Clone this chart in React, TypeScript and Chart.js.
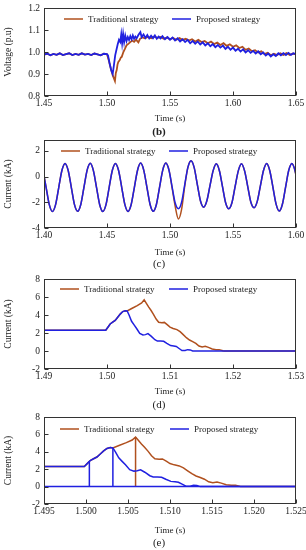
import React, { useEffect, useRef } from 'react';
import { Chart, registerables } from 'chart.js';

Chart.register(...registerables);

const BROWN = '#b0501e';
const BLUE = '#2020e0';
const FONT = "'Liberation Serif', 'Times New Roman', serif";
const INK = '#222222';

// ---------- Panel (b): voltage ----------
const VP_T = [
  1.45, 1.4525, 1.455, 1.4575, 1.46, 1.4625, 1.465, 1.4675, 1.47, 1.4725, 1.475, 1.4775, 1.48, 1.4825, 1.485, 1.4875, 1.49, 1.4925, 1.495, 1.4975, 1.5,
  1.5008, 1.502, 1.5033, 1.5045, 1.5055, 1.5065, 1.5075, 1.5085, 1.5095, 1.5105, 1.5113, 1.512, 1.5128, 1.5136, 1.5145, 1.5155,
  1.5165, 1.5175, 1.5185, 1.5195, 1.5205, 1.5215, 1.5225, 1.5235, 1.525, 1.5265, 1.5275, 1.529, 1.5305, 1.532, 1.5335, 1.535, 1.5365, 1.538, 1.5395,
  1.541, 1.5425, 1.544, 1.546, 1.548, 1.55, 1.552, 1.554, 1.556, 1.558, 1.56, 1.562, 1.564, 1.566, 1.568, 1.57, 1.572, 1.574, 1.576, 1.578, 1.58,
  1.582, 1.584, 1.586, 1.588, 1.59, 1.592, 1.594, 1.596, 1.598, 1.6, 1.602, 1.604, 1.606, 1.608, 1.61, 1.612, 1.614, 1.616, 1.618, 1.62,
  1.622, 1.624, 1.626, 1.628, 1.63, 1.632, 1.634, 1.636, 1.638, 1.64, 1.642, 1.644, 1.646, 1.648, 1.65,
];
const VP_V = [
  0.988, 0.993, 0.985, 0.991, 0.987, 0.994, 0.986, 0.990, 0.994, 0.986, 0.991, 0.987, 0.994, 0.988, 0.991, 0.986, 0.993, 0.989, 0.985, 0.992, 0.990,
  0.985, 0.950, 0.918, 0.900, 0.940, 0.985, 1.010, 1.035, 1.055, 1.045, 1.080, 1.040, 1.082, 1.045, 1.075, 1.050,
  1.068, 1.055, 1.072, 1.058, 1.075, 1.060, 1.070, 1.062, 1.078, 1.090, 1.068, 1.080, 1.064, 1.077, 1.062, 1.074, 1.063, 1.075, 1.060,
  1.070, 1.062, 1.072, 1.058, 1.068, 1.056, 1.066, 1.052, 1.062, 1.048, 1.058, 1.045, 1.055, 1.040, 1.050, 1.038, 1.048, 1.034, 1.044, 1.030, 1.040,
  1.026, 1.036, 1.022, 1.032, 1.020, 1.029, 1.014, 1.024, 1.010, 1.020, 1.006, 1.015, 1.002, 1.012, 0.998, 1.008, 0.996, 1.005, 0.993, 1.003,
  0.990, 0.998, 0.984, 0.993, 0.980, 0.990, 0.982, 0.994, 0.985, 0.995, 0.986, 0.996, 0.987, 0.994, 0.990,
];
const VT_T = [
  1.45, 1.4525, 1.455, 1.4575, 1.46, 1.4625, 1.465, 1.4675, 1.47, 1.4725, 1.475, 1.4775, 1.48, 1.4825, 1.485, 1.4875, 1.49, 1.4925, 1.495, 1.4975, 1.5,
  1.5015, 1.503, 1.5045, 1.5063, 1.507, 1.5077, 1.5084, 1.509, 1.51, 1.511, 1.5117, 1.513, 1.5143, 1.5155, 1.5169, 1.5185, 1.52, 1.5215, 1.523,
  1.5249, 1.5262, 1.528, 1.53, 1.5325, 1.535, 1.5375, 1.54, 1.5425, 1.545, 1.5475, 1.55, 1.5525, 1.555, 1.5575, 1.56, 1.5625, 1.565, 1.5675,
  1.57, 1.5725, 1.575, 1.5775, 1.58, 1.5825, 1.585, 1.5875, 1.59, 1.5925, 1.595, 1.5975, 1.6, 1.6025, 1.605, 1.6075, 1.61, 1.6125, 1.615,
  1.6175, 1.62, 1.6225, 1.625, 1.6275, 1.63, 1.6325, 1.635, 1.6375, 1.64, 1.6425, 1.645, 1.6475, 1.65,
];
const VT_V = [
  0.988, 0.993, 0.985, 0.991, 0.987, 0.994, 0.986, 0.990, 0.994, 0.986, 0.991, 0.987, 0.994, 0.988, 0.991, 0.986, 0.993, 0.989, 0.985, 0.992, 0.990,
  0.960, 0.925, 0.895, 0.868, 0.905, 0.918, 0.945, 0.955, 0.962, 0.975, 0.978, 1.000, 1.015, 1.030, 1.037, 1.045, 1.052, 1.046, 1.056,
  1.044, 1.060, 1.066, 1.062, 1.068, 1.062, 1.070, 1.064, 1.068, 1.060, 1.066, 1.058, 1.064, 1.056, 1.063, 1.055, 1.060, 1.052, 1.058,
  1.048, 1.055, 1.045, 1.050, 1.040, 1.047, 1.036, 1.043, 1.032, 1.040, 1.028, 1.035, 1.024, 1.030, 1.018, 1.024, 1.010, 1.016, 1.004,
  1.008, 0.998, 1.003, 0.990, 0.996, 0.985, 0.992, 0.986, 0.994, 0.987, 0.995, 0.986, 0.993, 0.989,
];

// ---------- Panel (c): current waveform (sampled every 2.5 ms from 1.3992 s) ----------
const C_T0 = 1.3992;
const C_DT = 0.0025;
const CP_V = [
  0.48, -0.85, -2.18,
  -2.72, -2.18, -0.85, 0.48, 1.03, 0.48, -0.85, -2.18,
  -2.70, -2.17, -0.84, 0.49, 1.04, 0.47, -0.86, -2.19,
  -2.72, -2.18, -0.85, 0.48, 1.03, 0.48, -0.85, -2.18,
  -2.71, -2.17, -0.85, 0.48, 1.05, 0.49, -0.84, -2.17,
  -2.70, -2.17, -0.84, 0.49, 1.05, 0.50, -0.82, -2.08,
  -2.50, -2.00, -0.62, 0.72, 1.24, 0.70, -0.62, -1.90,
  -2.38, -1.90, -0.72, 0.45, 1.00, 0.46, -0.80, -2.05,
  -2.50, -2.02, -0.76, 0.45, 1.00, 0.45, -0.78, -2.00,
  -2.42, -1.95, -0.74, 0.47, 1.02, 0.46, -0.84, -2.14,
  -2.68, -2.15, -0.84, 0.48, 1.03, 0.48, -0.85,
];
const CT_V = [
  0.48, -0.85, -2.18,
  -2.72, -2.18, -0.85, 0.48, 1.03, 0.48, -0.85, -2.18,
  -2.70, -2.17, -0.84, 0.49, 1.04, 0.47, -0.86, -2.19,
  -2.72, -2.18, -0.85, 0.48, 1.03, 0.48, -0.85, -2.18,
  -2.71, -2.17, -0.85, 0.48, 1.05, 0.49, -0.84, -2.17,
  -2.70, -2.17, -0.84, 0.49, 1.05, 0.50, -0.90, -2.35,
  -3.30, -2.55, -0.75, 0.72, 1.24, 0.70, -0.62, -1.90,
  -2.38, -1.90, -0.72, 0.45, 1.00, 0.46, -0.80, -2.05,
  -2.50, -2.02, -0.76, 0.45, 1.00, 0.45, -0.78, -2.00,
  -2.42, -1.95, -0.74, 0.47, 1.02, 0.46, -0.84, -2.14,
  -2.68, -2.15, -0.84, 0.48, 1.03, 0.48, -0.85,
];

// ---------- Panels (d), (e): breaker current ----------
const IP_T = [
  1.49, 1.4998, 1.5002, 1.5005, 1.5009, 1.5013, 1.5017, 1.5021, 1.5025, 1.5029, 1.5032, 1.5035, 1.5039, 1.5043, 1.5047,
  1.5052, 1.5057, 1.5061, 1.5065, 1.507, 1.5076, 1.508, 1.5085, 1.509, 1.5095, 1.5101, 1.5106, 1.511, 1.5115, 1.5119,
  1.5124, 1.5128, 1.5132, 1.5136, 1.53,
];
const IP_V = [
  2.3, 2.3, 2.7, 3.0, 3.2, 3.4, 3.75, 4.1, 4.38, 4.48, 4.45, 4.0, 3.3, 2.9, 2.5,
  1.95, 1.78, 1.82, 1.93, 1.65, 1.25, 1.1, 1.1, 1.08, 0.85, 0.6, 0.56, 0.5, 0.25, 0.05,
  0.05, 0.15, 0.12, 0.0, 0.0,
];
const IT_T = [
  1.49, 1.4998, 1.5002, 1.5005, 1.5009, 1.5013, 1.5017, 1.5021, 1.5025, 1.5029, 1.5032, 1.504, 1.5048, 1.5055, 1.5059,
  1.5062, 1.5066, 1.507, 1.5074, 1.5078, 1.5082, 1.5087, 1.5091, 1.5096, 1.51, 1.5105, 1.5111, 1.5116, 1.5121, 1.5126,
  1.5131, 1.5136, 1.5141, 1.5146, 1.5151, 1.5156, 1.5161, 1.5167, 1.5173, 1.5178, 1.5184, 1.5186, 1.53,
];
const IT_V = [
  2.3, 2.3, 2.7, 3.0, 3.2, 3.4, 3.75, 4.1, 4.38, 4.48, 4.45, 4.75, 5.05, 5.35, 5.7,
  5.35, 4.9, 4.5, 4.05, 3.55, 3.2, 3.15, 3.18, 2.9, 2.65, 2.5, 2.38, 2.15, 1.82, 1.48,
  1.22, 1.05, 0.85, 0.55, 0.45, 0.52, 0.4, 0.22, 0.15, 0.15, 0.02, 0.0, 0.0,
];
// Panel (e) switching branches
const EP_T = [1.49, 1.5004, 1.5004, 1.5004, 1.5032, 1.5032, 1.5032, 1.53];
const EP_V = [0, 0, 2.95, 0, 0, 4.45, 0, 0];
const ET_T = [1.5059, 1.5059];
const ET_V = [0, 5.7];

const LEGEND_LABELS = ['Traditional strategy', 'Proposed strategy'];

const pts = (t: number[], v: number[]) => t.map((x, i) => ({ x, y: v[i] }));
const evenPts = (t0: number, dt: number, v: number[]) => v.map((y, i) => ({ x: t0 + dt * i, y }));

const framePlugin = {
  id: 'frameTicks',
  afterDatasetsDraw(chart: any) {
    const { ctx, chartArea: a, scales } = chart;
    ctx.save();
    ctx.strokeStyle = '#333333';
    ctx.lineWidth = 1;
    const l = Math.round(a.left) + 0.5;
    const r = Math.round(a.right) - 0.5;
    const t = Math.round(a.top) + 0.5;
    const b = Math.round(a.bottom) - 0.5;
    ctx.strokeRect(l, t, r - l, b - t);
    ctx.beginPath();
    scales.x.ticks.forEach((tk: any) => {
      const px = Math.round(scales.x.getPixelForValue(tk.value)) + 0.5;
      ctx.moveTo(px, b);
      ctx.lineTo(px, b - 4);
    });
    scales.y.ticks.forEach((tk: any) => {
      const py = Math.round(scales.y.getPixelForValue(tk.value)) + 0.5;
      ctx.moveTo(l, py);
      ctx.lineTo(l + 4, py);
    });
    ctx.stroke();
    ctx.restore();
  },
};

const legendPlugin = {
  id: 'inLegend',
  afterDraw(chart: any, _args: any, opts: any) {
    const { ctx, chartArea } = chart;
    const y = chartArea.top + opts.dy;
    const items = [
      { label: LEGEND_LABELS[0], color: BROWN, dx: opts.x1 },
      { label: LEGEND_LABELS[1], color: BLUE, dx: opts.x2 },
    ];
    ctx.save();
    items.forEach((it) => {
      const x = chartArea.left + it.dx;
      ctx.strokeStyle = it.color;
      ctx.lineWidth = 1.5;
      ctx.beginPath();
      ctx.moveTo(x, y);
      ctx.lineTo(x + 19, y);
      ctx.stroke();
      ctx.fillStyle = INK;
      ctx.font = `9px ${FONT}`;
      ctx.textBaseline = 'middle';
      ctx.textAlign = 'left';
      ctx.fillText(it.label, x + 24, y + 0.5);
    });
    ctx.restore();
  },
};

type Spec = {
  top: number; h: number; padTop: number; xH: number;
  xMin: number; xMax: number; xStep: number; xDec: number;
  yMin: number; yMax: number; yStep: number; yDec: number;
  yTitle: string; legend: { x1: number; x2: number; dy: number };
  datasets: any[];
};

const line = (data: any[], color: string, order: number, cubic = false, width = 1.5) => ({
  data,
  borderColor: color,
  backgroundColor: color,
  borderWidth: width,
  pointRadius: 0,
  fill: false,
  order,
  clip: 0,
  tension: 0,
  cubicInterpolationMode: cubic ? 'monotone' : 'default',
});

const SPECS: Spec[] = [
  {
    top: 0, h: 126, padTop: 8, xH: 30,
    xMin: 1.45, xMax: 1.65, xStep: 0.05, xDec: 2,
    yMin: 0.8, yMax: 1.2, yStep: 0.1, yDec: 1,
    yTitle: 'Voltage (p.u)', legend: { x1: 20, x2: 128, dy: 11 },
    datasets: [line(pts(VT_T, VT_V), BROWN, 1, false, 1.8), line(pts(VP_T, VP_V), BLUE, 0, false, 1.8)],
  },
  {
    top: 134, h: 126, padTop: 6, xH: 32,
    xMin: 1.4, xMax: 1.6, xStep: 0.05, xDec: 2,
    yMin: -4, yMax: 2.85, yStep: 2, yDec: 0,
    yTitle: 'Current (kA)', legend: { x1: 17, x2: 125, dy: 11 },
    datasets: [line(evenPts(C_T0, C_DT, CT_V), BROWN, 1, true), line(evenPts(C_T0, C_DT, CP_V), BLUE, 0, true)],
  },
  {
    top: 271, h: 128, padTop: 8, xH: 30,
    xMin: 1.49, xMax: 1.53, xStep: 0.01, xDec: 2,
    yMin: -2, yMax: 8, yStep: 2, yDec: 0,
    yTitle: 'Current (kA)', legend: { x1: 16, x2: 125, dy: 10 },
    datasets: [line(pts(IT_T, IT_V), BROWN, 1), line(pts(IP_T, IP_V), BLUE, 0)],
  },
  {
    top: 409, h: 129, padTop: 8, xH: 34,
    xMin: 1.495, xMax: 1.525, xStep: 0.005, xDec: 3,
    yMin: -2, yMax: 8, yStep: 2, yDec: 0,
    yTitle: 'Current (kA)', legend: { x1: 16, x2: 126, dy: 12 },
    datasets: [
      line(pts(IT_T, IT_V), BROWN, 2),
      line(pts(ET_T, ET_V), BROWN, 1),
      line(pts(IP_T, IP_V), BLUE, 0),
      line(pts(EP_T, EP_V), BLUE, 0),
    ],
  },
];

const LABELS = [
  { text: '(b)', y: 131, bold: true },
  { text: '(c)', y: 263, bold: false },
  { text: '(d)', y: 404, bold: false },
  { text: '(e)', y: 542, bold: false },
];

function makeConfig(p: Spec): any {
  return {
    type: 'line',
    data: { datasets: p.datasets },
    options: {
      animation: false,
      responsive: false,
      maintainAspectRatio: false,
      parsing: true,
      layout: { padding: { top: p.padTop, right: 10, left: 0, bottom: 0 } },
      plugins: {
        legend: { display: false },
        tooltip: { enabled: false },
        inLegend: p.legend,
      },
      scales: {
        x: {
          type: 'linear',
          min: p.xMin,
          max: p.xMax,
          grid: { display: false, drawTicks: false },
          border: { display: false },
          ticks: {
            stepSize: p.xStep,
            includeBounds: false,
            autoSkip: false,
            maxRotation: 0,
            padding: 2,
            color: INK,
            font: { family: FONT, size: 9.5 },
            callback: (v: any) => Number(v).toFixed(p.xDec),
          },
          title: {
            display: true,
            text: 'Time (s)',
            color: INK,
            font: { family: FONT, size: 9 },
            padding: { top: 0, bottom: 2 },
          },
          afterFit: (s: any) => {
            s.height = p.xH;
            s.paddingLeft = 0;
            s.paddingRight = 0;
          },
        },
        y: {
          type: 'linear',
          min: p.yMin,
          max: p.yMax,
          grid: { display: false, drawTicks: false },
          border: { display: false },
          ticks: {
            stepSize: p.yStep,
            includeBounds: false,
            padding: 4,
            color: INK,
            font: { family: FONT, size: 9.5 },
            callback: (v: any) => Number(v).toFixed(p.yDec),
          },
          title: {
            display: true,
            text: p.yTitle,
            color: INK,
            font: { family: FONT, size: 9.5 },
            padding: { top: 3, bottom: 0 },
          },
          afterFit: (s: any) => {
            s.width = 44;
            s.paddingTop = 0;
            s.paddingBottom = 0;
          },
        },
      },
    },
    plugins: [framePlugin, legendPlugin],
  };
}

function Panel({ spec }: { spec: Spec }) {
  const ref = useRef<HTMLCanvasElement>(null);
  useEffect(() => {
    if (!ref.current) return;
    const chart = new Chart(ref.current, makeConfig(spec));
    return () => chart.destroy();
  }, [spec]);
  return (
    <canvas
      ref={ref}
      width={306}
      height={spec.h}
      style={{ position: 'absolute', left: 0, top: spec.top, width: 306, height: spec.h }}
    />
  );
}

export default function App() {
  return (
    <div style={{ position: 'absolute', left: 0, top: 0, width: 306, height: 550, background: '#ffffff', overflow: 'hidden' }}>
      {SPECS.map((s, i) => (
        <Panel key={i} spec={s} />
      ))}
      {LABELS.map((l, i) => (
        <div
          key={'l' + i}
          style={{
            position: 'absolute',
            left: 139,
            width: 40,
            top: l.y - 7,
            height: 14,
            lineHeight: '14px',
            textAlign: 'center',
            fontFamily: FONT,
            fontSize: 11,
            fontWeight: l.bold ? 'bold' : 'normal',
            color: INK,
          }}
        >
          {l.text}
        </div>
      ))}
    </div>
  );
}
